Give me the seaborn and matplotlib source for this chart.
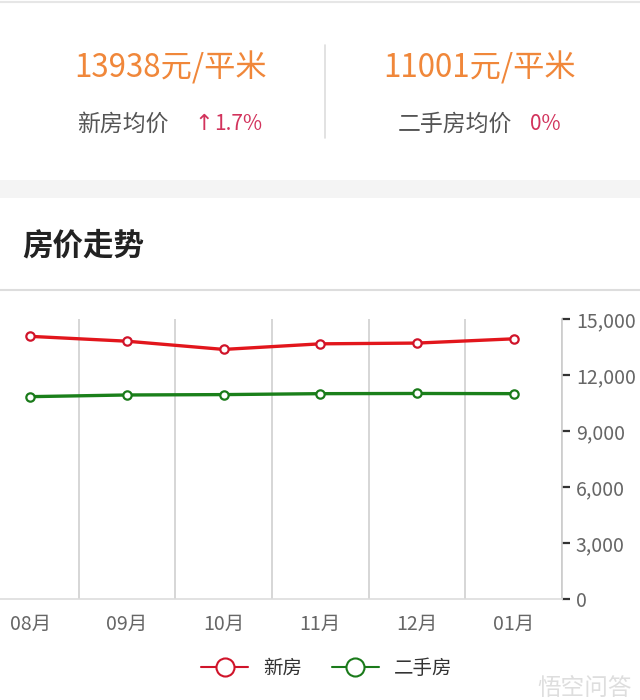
import pandas as pd
import seaborn as sns
import matplotlib.pyplot as plt
from matplotlib.lines import Line2D
from matplotlib.ticker import FuncFormatter, FixedLocator

sns.set_theme(style="white")
plt.rcParams['font.family'] = ['Noto Sans CJK SC', 'DejaVu Sans']

# data
months = ["08月", "09月", "10月", "11月", "12月", "01月"]
new_price = [14070, 13810, 13370, 13670, 13710, 13938]
second_price = [10840, 10930, 10950, 11000, 11010, 11001]
y_ticks = [0, 3000, 6000, 9000, 12000, 15000]

df = pd.DataFrame({"idx": range(len(months)), "新房": new_price, "二手房": second_price})

fig = plt.figure(figsize=(6.4, 7), dpi=100)

# header panel
line_top = Line2D([0, 1], [1 - 2 / 700] * 2, color="#e6e6e6", lw=1.5, transform=fig.transFigure)
fig.add_artist(line_top)
fig.text(171 / 640, 1 - 68 / 700, "13938元/平米", color="#f0873a", fontsize=22.5,
         ha="center", va="center")
fig.text(480 / 640, 1 - 68 / 700, "11001元/平米", color="#f0873a", fontsize=22.5,
         ha="center", va="center")
fig.text(77 / 640, 1 - 124 / 700, "新房均价", color="#555555", fontsize=16.5, ha="left", va="center")
fig.text(194 / 640, 1 - 124 / 700, "↑", color="#d2335c", fontsize=16, ha="left", va="center",
         family=["DejaVu Sans"])
fig.text(214 / 640, 1 - 124 / 700, "1.7%", color="#d2335c", fontsize=15, ha="left", va="center")
fig.text(398 / 640, 1 - 124 / 700, "二手房均价", color="#555555", fontsize=16.5, ha="left", va="center")
fig.text(530 / 640, 1 - 124 / 700, "0%", color="#d2335c", fontsize=15, ha="left", va="center")
fig.add_artist(Line2D([325 / 640] * 2, [1 - 45 / 700, 1 - 138 / 700], color="#dddddd", lw=1.2,
                      transform=fig.transFigure))

# gray band
fig.add_artist(plt.Rectangle((0, 1 - 198 / 700), 1, 18 / 700, color="#f4f4f4",
                             transform=fig.transFigure, lw=0))
fig.text(22 / 640, 1 - 245 / 700, "房价走势", color="#222222", fontsize=22, fontweight="bold",
         ha="left", va="center")
fig.add_artist(Line2D([0, 1], [1 - 290 / 700] * 2, color="#dddddd", lw=1.5, transform=fig.transFigure))

# chart
ax = fig.add_axes([-18 / 640, 101 / 700, 580 / 640, 280 / 700])
sns.lineplot(data=df, x="idx", y="新房", ax=ax, color="#e2161c", lw=2.4, marker="o",
             markersize=6, markerfacecolor="white", markeredgecolor="#d0142a", markeredgewidth=1.6)
sns.lineplot(data=df, x="idx", y="二手房", ax=ax, color="#1a801a", lw=2.4, marker="o",
             markersize=6, markerfacecolor="white", markeredgecolor="#1a7a1a", markeredgewidth=1.6)

ax.set_xlim(-0.5, 5.5)
ax.set_ylim(0, 15000)
ax.set_xlabel("")
ax.set_ylabel("")
ax.set_xticks(range(len(months)))
ax.set_xticklabels(months)
ax.xaxis.set_minor_locator(FixedLocator([0.5, 1.5, 2.5, 3.5, 4.5, 5.5]))
ax.grid(axis="x", which="minor", color="#cccccc", lw=1.1)
ax.tick_params(axis="x", which="major", length=0, pad=11, labelsize=14, labelcolor="#666666")
ax.tick_params(axis="x", which="minor", length=8, width=1.1, color="#cccccc", direction="out")

ax.yaxis.tick_right()
ax.set_yticks(y_ticks)
ax.yaxis.set_major_formatter(FuncFormatter(lambda v, p: f"{int(v):,}"))
ax.tick_params(axis="y", length=6, width=1.6, color="#333333", pad=4, labelsize=14,
               labelcolor="#666666", direction="out")

for s in ["top", "left"]:
    ax.spines[s].set_visible(False)
ax.spines["bottom"].set_color("#dddddd")
ax.spines["bottom"].set_linewidth(1.2)
ax.spines["right"].set_color("#cccccc")
ax.spines["right"].set_linewidth(1.2)
ax.spines["right"].set_bounds(0, 15000)

# legend
handles = [
    Line2D([], [], color="#d0142a", lw=1.5, marker="o", markersize=13, markerfacecolor="white",
           markeredgecolor="#d0142a", markeredgewidth=1.5),
    Line2D([], [], color="#1a7a1a", lw=1.5, marker="o", markersize=13, markerfacecolor="white",
           markeredgecolor="#1a7a1a", markeredgewidth=1.5),
]
fig.legend(handles, ["新房", "二手房"], loc="center", bbox_to_anchor=(327 / 640, 1 - 668 / 700),
           ncol=2, frameon=False, fontsize=14, handlelength=2.4, columnspacing=1.5,
           labelcolor="#333333")

# watermark
fig.text(632 / 640, 1 - 688 / 700, "悟空问答", color="#dedede", fontsize=17, ha="right", va="center")

fig.savefig("out.png", dpi=100, facecolor="white")
